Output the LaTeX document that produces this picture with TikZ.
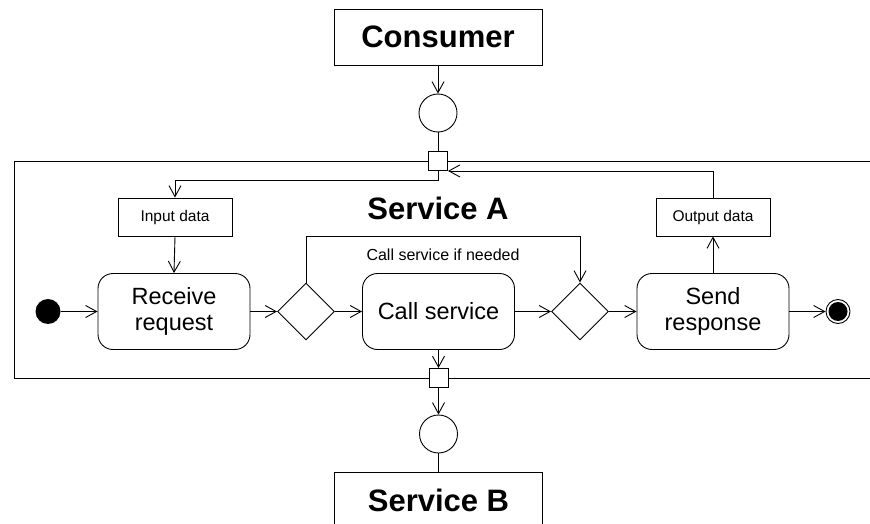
\documentclass[tikz,border=0pt]{standalone}
\usepackage{fontspec}
\setmainfont{Liberation Sans}
\usetikzlibrary{arrows.meta,shapes.geometric}
\tikzset{
  flow/.style={-{Straight Barb[length=11pt,width=12pt,line width=0.9pt]}},
  titlebox/.style={draw, rectangle, minimum width=208pt, minimum height=56pt, inner sep=0pt,
    font=\fontsize{31}{36}\selectfont\bfseries},
  action/.style={draw, rectangle, rounded corners=15pt, minimum width=152pt, minimum height=76pt,
    inner sep=0pt, align=center, font=\fontsize{23.5}{26}\selectfont},
  databox/.style={draw, rectangle, minimum width=114pt, minimum height=38pt, inner sep=0pt,
    font=\fontsize{15.5}{18}\selectfont},
  decision/.style={draw, diamond, aspect=1, minimum size=57pt, inner sep=0pt, fill=white},
  iface/.style={draw, circle, minimum size=38pt, inner sep=0pt},
  port/.style={draw, rectangle, minimum size=19pt, inner sep=0pt, fill=white},
  startdot/.style={circle, fill=black, minimum size=25pt, inner sep=0pt},
  enddot/.style={draw, circle, minimum size=24pt, inner sep=0pt,
    path picture={\fill (path picture bounding box.center) circle (9.5pt);}},
}
\begin{document}
\begin{tikzpicture}[x=1pt, y=-1pt, line width=0.9pt]
\useasboundingbox (0,0) rectangle (870,524);
\clip (0,0) rectangle (870,524);

% activity frame of Service A (extends past the right edge)
\node[draw, rectangle, minimum width=880pt, minimum height=217pt, inner sep=0pt, anchor=north west]
  (frameA) at (14,161) {};
\node[font=\fontsize{31}{36}\selectfont\bfseries] (titleA) at (438,208) {Service A};

% external participants
\node[titlebox] (consumer) at (438,37) {Consumer};
\node[titlebox] (serviceB) at (438.5,500) {Service B};
\node[iface] (ifaceTop) at (438,113) {};
\node[iface] (ifaceBot) at (438.5,434) {};
\node[port] (portTop) at (438,161) {};
\node[port] (portBot) at (438.5,378) {};

% data objects
\node[databox] (inData) at (175,217) {Input data};
\node[databox] (outData) at (713,217) {Output data};

% control flow
\node[startdot] (start) at (48,311.5) {};
\node[action] (receive) at (174,311.5) {Receive\\request};
\node[decision] (dec1) at (306,311.5) {};
\node[action] (call) at (438.5,311.5) {Call service};
\node[decision] (dec2) at (580,311.5) {};
\node[action] (send) at (713,311.5) {Send\\response};
\node[enddot] (finish) at (838,311.5) {};

% connectors
\draw[flow] (consumer.south) -- (ifaceTop.north);
\draw (ifaceTop.south) -- (portTop.north);
\draw[flow] (portTop.south) -- ++(0,9) -| (inData.north);
\draw[flow] (inData.south) -- (receive.north);
\draw[flow] (start.east) -- (receive.west);
\draw[flow] (receive.east) -- (dec1.west);
\draw[flow] (dec1.east) -- (call.west);
\draw[flow] (dec1.north) -- ++(0,-46) -| (dec2.north);
\node[font=\fontsize{16}{19}\selectfont] (skipLabel) at (443,255) {Call service if needed};
\draw[flow] (call.east) -- (dec2.west);
\draw[flow] (dec2.east) -- (send.west);
\draw[flow] (send.east) -- (finish.west);
\draw[flow] (send.north) -- (outData.south);
\draw[flow] (outData.north) |- (portTop.south east);
\draw[flow] (call.south) -- (portBot.north);
\draw[flow] (portBot.south) -- (ifaceBot.north);
\draw (ifaceBot.south) -- (serviceB.north);
\end{tikzpicture}
\end{document}
